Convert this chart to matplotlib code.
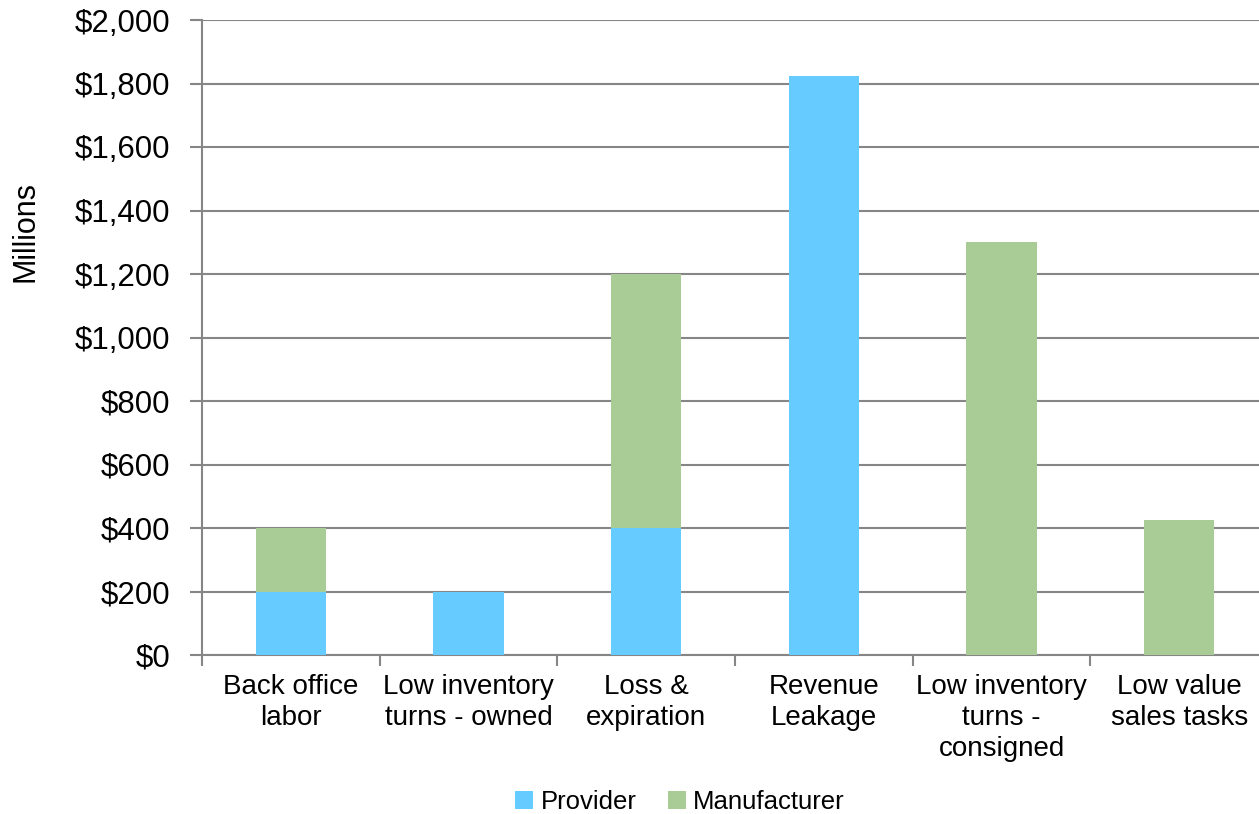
import matplotlib.pyplot as plt
import numpy as np
from matplotlib.ticker import FuncFormatter

plt.rcParams['font.family'] = ['Liberation Sans', 'DejaVu Sans']

categories = ["Back office\nlabor", "Low inventory\nturns - owned", "Loss &\nexpiration",
              "Revenue\nLeakage", "Low inventory\nturns -\nconsigned", "Low value\nsales tasks"]
provider = [200, 200, 400, 1825, 0, 0]
manufacturer = [200, 0, 800, 0, 1300, 426]

c_prov = "#66CCFF"
c_manu = "#A9CC96"
gray = "#868686"

W, H = 1259, 814
fig = plt.figure(figsize=(W / 100, H / 100), dpi=100)
left, right, top, bottom = 202, 1268, 20, 655
ax = fig.add_axes([left / W, 1 - bottom / H, (right - left) / W, (bottom - top) / H])

x = np.arange(len(categories))
bw = 0.395
ax.bar(x, provider, bw, color=c_prov, label="Provider", zorder=3)
ax.bar(x, manufacturer, bw, bottom=provider, color=c_manu, label="Manufacturer", zorder=3)

ax.set_xlim(-0.5, len(categories) - 0.5)
ax.set_ylim(0, 2000)
ax.set_yticks(np.arange(0, 2001, 200))
ax.yaxis.set_major_formatter(FuncFormatter(lambda v, p: f"${v:,.0f}"))
ax.yaxis.grid(True, color=gray, linewidth=1.5, zorder=0)
ax.set_axisbelow(True)

ax.set_xticks(x)
ax.set_xticklabels(categories, fontsize=20, linespacing=1.25)
ax.set_xticks(np.arange(-0.5, len(categories)), minor=True)
ax.tick_params(axis='x', which='major', length=0, pad=14)
ax.tick_params(axis='x', which='minor', length=8, width=1.5, color=gray)
ax.tick_params(axis='y', length=9, width=1.5, color=gray, labelsize=22.5, pad=14)

for s in ['top', 'right']:
    ax.spines[s].set_visible(False)
for s in ['left', 'bottom']:
    ax.spines[s].set_color(gray)
    ax.spines[s].set_linewidth(1.5)

fig.text(25 / W, 1 - 232 / H, "Millions", fontsize=22, rotation=90, ha='center', va='center')

fig.legend(loc='center', bbox_to_anchor=(680 / W, 1 - 802 / H), ncol=2, frameon=False,
           fontsize=18.5, handlelength=0.7, handleheight=0.7, handletextpad=0.3,
           columnspacing=1.2)

fig.savefig("out.png", dpi=100)
